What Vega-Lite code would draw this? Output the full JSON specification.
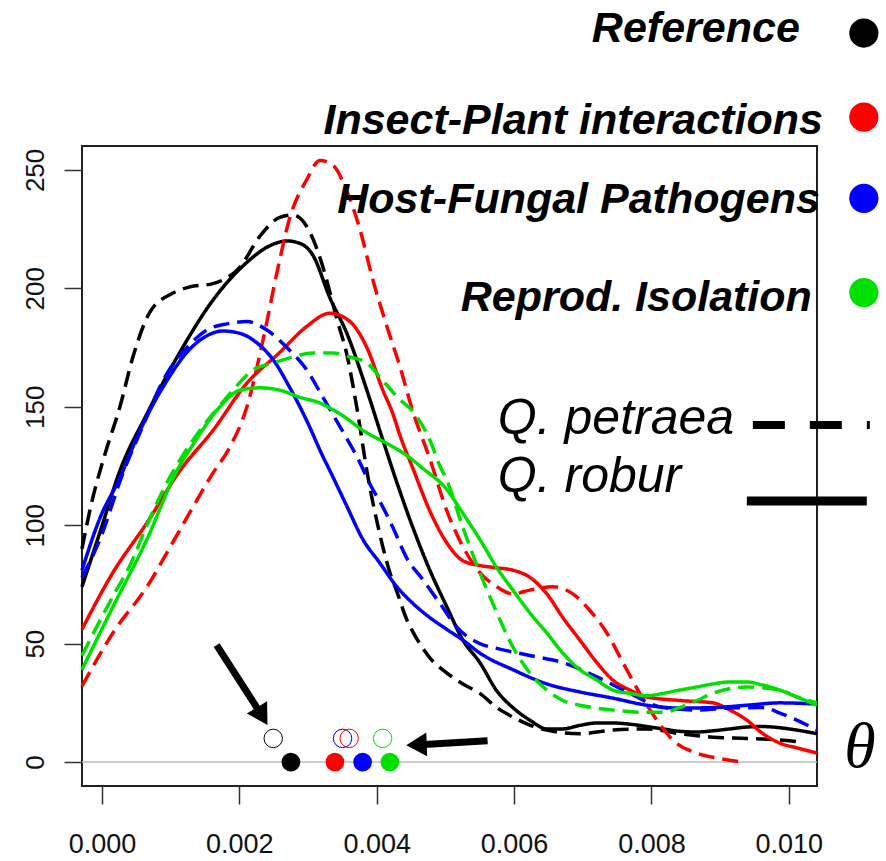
{
"$schema": "https://vega.github.io/schema/vega-lite/v6.json",
"width": 735, "height": 640,
"autosize": {"type": "none"},
"padding": {"left": 82, "top": 146, "right": 69, "bottom": 75},
"background": "white",
"config": {"view": {"stroke": "#222", "strokeWidth": 2}, "font": "Liberation Sans"},
"datasets": {
"curves": [
{"group":"Reference","species":"Q. robur","theta":-0.000291,"density":74},
{"group":"Reference","species":"Q. robur","theta":-0.000029,"density":97},
{"group":"Reference","species":"Q. robur","theta":0.000262,"density":123},
{"group":"Reference","species":"Q. robur","theta":0.000655,"density":147},
{"group":"Reference","species":"Q. robur","theta":0.001135,"density":173},
{"group":"Reference","species":"Q. robur","theta":0.001616,"density":195},
{"group":"Reference","species":"Q. robur","theta":0.002111,"density":211},
{"group":"Reference","species":"Q. robur","theta":0.002445,"density":218},
{"group":"Reference","species":"Q. robur","theta":0.002693,"density":220},
{"group":"Reference","species":"Q. robur","theta":0.002882,"density":219},
{"group":"Reference","species":"Q. robur","theta":0.003071,"density":214},
{"group":"Reference","species":"Q. robur","theta":0.003319,"density":196},
{"group":"Reference","species":"Q. robur","theta":0.003566,"density":181},
{"group":"Reference","species":"Q. robur","theta":0.003857,"density":157},
{"group":"Reference","species":"Q. robur","theta":0.004090,"density":136},
{"group":"Reference","species":"Q. robur","theta":0.004294,"density":118},
{"group":"Reference","species":"Q. robur","theta":0.004527,"density":99},
{"group":"Reference","species":"Q. robur","theta":0.004774,"density":81},
{"group":"Reference","species":"Q. robur","theta":0.005022,"density":65.5},
{"group":"Reference","species":"Q. robur","theta":0.005255,"density":51.5},
{"group":"Reference","species":"Q. robur","theta":0.005502,"density":42},
{"group":"Reference","species":"Q. robur","theta":0.005750,"density":30},
{"group":"Reference","species":"Q. robur","theta":0.005983,"density":23},
{"group":"Reference","species":"Q. robur","theta":0.006230,"density":17.7},
{"group":"Reference","species":"Q. robur","theta":0.006477,"density":14},
{"group":"Reference","species":"Q. robur","theta":0.006710,"density":14},
{"group":"Reference","species":"Q. robur","theta":0.006958,"density":15.5},
{"group":"Reference","species":"Q. robur","theta":0.007205,"density":16.5},
{"group":"Reference","species":"Q. robur","theta":0.007438,"density":16.5},
{"group":"Reference","species":"Q. robur","theta":0.007686,"density":16},
{"group":"Reference","species":"Q. robur","theta":0.007933,"density":15},
{"group":"Reference","species":"Q. robur","theta":0.008166,"density":14},
{"group":"Reference","species":"Q. robur","theta":0.008413,"density":13},
{"group":"Reference","species":"Q. robur","theta":0.008661,"density":12.7},
{"group":"Reference","species":"Q. robur","theta":0.008894,"density":13.2},
{"group":"Reference","species":"Q. robur","theta":0.009141,"density":14},
{"group":"Reference","species":"Q. robur","theta":0.009389,"density":14.8},
{"group":"Reference","species":"Q. robur","theta":0.009622,"density":15},
{"group":"Reference","species":"Q. robur","theta":0.009869,"density":14.5},
{"group":"Reference","species":"Q. robur","theta":0.010116,"density":13.5},
{"group":"Reference","species":"Q. robur","theta":0.010408,"density":12},
{"group":"Reference","species":"Q. petraea","theta":-0.000291,"density":90},
{"group":"Reference","species":"Q. petraea","theta":-0.000146,"density":110},
{"group":"Reference","species":"Q. petraea","theta":0.000044,"density":130},
{"group":"Reference","species":"Q. petraea","theta":0.000262,"density":150},
{"group":"Reference","species":"Q. petraea","theta":0.000451,"density":171},
{"group":"Reference","species":"Q. petraea","theta":0.000699,"density":190},
{"group":"Reference","species":"Q. petraea","theta":0.001033,"density":198},
{"group":"Reference","species":"Q. petraea","theta":0.001281,"density":200.6},
{"group":"Reference","species":"Q. petraea","theta":0.001616,"density":202},
{"group":"Reference","species":"Q. petraea","theta":0.002009,"density":209},
{"group":"Reference","species":"Q. petraea","theta":0.002300,"density":222},
{"group":"Reference","species":"Q. petraea","theta":0.002591,"density":230},
{"group":"Reference","species":"Q. petraea","theta":0.002780,"density":231},
{"group":"Reference","species":"Q. petraea","theta":0.002984,"density":226},
{"group":"Reference","species":"Q. petraea","theta":0.003071,"density":221},
{"group":"Reference","species":"Q. petraea","theta":0.003217,"density":209},
{"group":"Reference","species":"Q. petraea","theta":0.003421,"density":187},
{"group":"Reference","species":"Q. petraea","theta":0.003566,"density":172},
{"group":"Reference","species":"Q. petraea","theta":0.003726,"density":147},
{"group":"Reference","species":"Q. petraea","theta":0.003857,"density":123},
{"group":"Reference","species":"Q. petraea","theta":0.004047,"density":96},
{"group":"Reference","species":"Q. petraea","theta":0.004192,"density":80},
{"group":"Reference","species":"Q. petraea","theta":0.004294,"density":72},
{"group":"Reference","species":"Q. petraea","theta":0.004440,"density":60},
{"group":"Reference","species":"Q. petraea","theta":0.004527,"density":55},
{"group":"Reference","species":"Q. petraea","theta":0.004774,"density":44},
{"group":"Reference","species":"Q. petraea","theta":0.005022,"density":37.6},
{"group":"Reference","species":"Q. petraea","theta":0.005255,"density":33},
{"group":"Reference","species":"Q. petraea","theta":0.005502,"density":29},
{"group":"Reference","species":"Q. petraea","theta":0.005750,"density":23},
{"group":"Reference","species":"Q. petraea","theta":0.005983,"density":19},
{"group":"Reference","species":"Q. petraea","theta":0.006230,"density":15.6},
{"group":"Reference","species":"Q. petraea","theta":0.006477,"density":13.5},
{"group":"Reference","species":"Q. petraea","theta":0.006958,"density":12},
{"group":"Reference","species":"Q. petraea","theta":0.007438,"density":13.5},
{"group":"Reference","species":"Q. petraea","theta":0.007933,"density":14},
{"group":"Reference","species":"Q. petraea","theta":0.008413,"density":12},
{"group":"Reference","species":"Q. petraea","theta":0.008894,"density":10.5},
{"group":"Reference","species":"Q. petraea","theta":0.009389,"density":10},
{"group":"Reference","species":"Q. petraea","theta":0.009869,"density":9.3},
{"group":"Reference","species":"Q. petraea","theta":0.010160,"density":8.5},
{"group":"Insect-Plant interactions","species":"Q. robur","theta":-0.000291,"density":56},
{"group":"Insect-Plant interactions","species":"Q. robur","theta":0.000160,"density":80},
{"group":"Insect-Plant interactions","species":"Q. robur","theta":0.000655,"density":101},
{"group":"Insect-Plant interactions","species":"Q. robur","theta":0.001135,"density":123},
{"group":"Insect-Plant interactions","species":"Q. robur","theta":0.001616,"density":140},
{"group":"Insect-Plant interactions","species":"Q. robur","theta":0.002111,"density":160},
{"group":"Insect-Plant interactions","species":"Q. robur","theta":0.002591,"density":173},
{"group":"Insect-Plant interactions","species":"Q. robur","theta":0.002984,"density":184},
{"group":"Insect-Plant interactions","species":"Q. robur","theta":0.003319,"density":189.5},
{"group":"Insect-Plant interactions","species":"Q. robur","theta":0.003610,"density":186},
{"group":"Insect-Plant interactions","species":"Q. robur","theta":0.003857,"density":175},
{"group":"Insect-Plant interactions","species":"Q. robur","theta":0.004090,"density":157},
{"group":"Insect-Plant interactions","species":"Q. robur","theta":0.004236,"density":147},
{"group":"Insect-Plant interactions","species":"Q. robur","theta":0.004338,"density":138},
{"group":"Insect-Plant interactions","species":"Q. robur","theta":0.004527,"density":124},
{"group":"Insect-Plant interactions","species":"Q. robur","theta":0.004774,"density":106},
{"group":"Insect-Plant interactions","species":"Q. robur","theta":0.005022,"density":92.5},
{"group":"Insect-Plant interactions","species":"Q. robur","theta":0.005255,"density":85},
{"group":"Insect-Plant interactions","species":"Q. robur","theta":0.005502,"density":83},
{"group":"Insect-Plant interactions","species":"Q. robur","theta":0.005750,"density":82},
{"group":"Insect-Plant interactions","species":"Q. robur","theta":0.005983,"density":81},
{"group":"Insect-Plant interactions","species":"Q. robur","theta":0.006230,"density":78},
{"group":"Insect-Plant interactions","species":"Q. robur","theta":0.006477,"density":71},
{"group":"Insect-Plant interactions","species":"Q. robur","theta":0.006710,"density":61},
{"group":"Insect-Plant interactions","species":"Q. robur","theta":0.006958,"density":51.5},
{"group":"Insect-Plant interactions","species":"Q. robur","theta":0.007205,"density":42},
{"group":"Insect-Plant interactions","species":"Q. robur","theta":0.007438,"density":34.6},
{"group":"Insect-Plant interactions","species":"Q. robur","theta":0.007686,"density":30.4},
{"group":"Insect-Plant interactions","species":"Q. robur","theta":0.007933,"density":27.5},
{"group":"Insect-Plant interactions","species":"Q. robur","theta":0.008413,"density":26},
{"group":"Insect-Plant interactions","species":"Q. robur","theta":0.008894,"density":25},
{"group":"Insect-Plant interactions","species":"Q. robur","theta":0.009141,"density":22},
{"group":"Insect-Plant interactions","species":"Q. robur","theta":0.009389,"density":17.7},
{"group":"Insect-Plant interactions","species":"Q. robur","theta":0.009622,"density":12},
{"group":"Insect-Plant interactions","species":"Q. robur","theta":0.009869,"density":8},
{"group":"Insect-Plant interactions","species":"Q. robur","theta":0.010116,"density":6},
{"group":"Insect-Plant interactions","species":"Q. robur","theta":0.010408,"density":3.8},
{"group":"Insect-Plant interactions","species":"Q. petraea","theta":-0.000291,"density":32},
{"group":"Insect-Plant interactions","species":"Q. petraea","theta":0.000160,"density":54.5},
{"group":"Insect-Plant interactions","species":"Q. petraea","theta":0.000655,"density":74},
{"group":"Insect-Plant interactions","species":"Q. petraea","theta":0.001135,"density":98},
{"group":"Insect-Plant interactions","species":"Q. petraea","theta":0.001616,"density":122},
{"group":"Insect-Plant interactions","species":"Q. petraea","theta":0.001863,"density":133},
{"group":"Insect-Plant interactions","species":"Q. petraea","theta":0.002111,"density":150},
{"group":"Insect-Plant interactions","species":"Q. petraea","theta":0.002344,"density":178},
{"group":"Insect-Plant interactions","species":"Q. petraea","theta":0.002547,"density":206.5},
{"group":"Insect-Plant interactions","species":"Q. petraea","theta":0.002737,"density":230},
{"group":"Insect-Plant interactions","species":"Q. petraea","theta":0.002984,"density":246},
{"group":"Insect-Plant interactions","species":"Q. petraea","theta":0.003173,"density":254},
{"group":"Insect-Plant interactions","species":"Q. petraea","theta":0.003362,"density":252},
{"group":"Insect-Plant interactions","species":"Q. petraea","theta":0.003566,"density":241},
{"group":"Insect-Plant interactions","species":"Q. petraea","theta":0.003755,"density":225},
{"group":"Insect-Plant interactions","species":"Q. petraea","theta":0.003945,"density":203.5},
{"group":"Insect-Plant interactions","species":"Q. petraea","theta":0.004148,"density":184},
{"group":"Insect-Plant interactions","species":"Q. petraea","theta":0.004338,"density":167},
{"group":"Insect-Plant interactions","species":"Q. petraea","theta":0.004527,"density":148},
{"group":"Insect-Plant interactions","species":"Q. petraea","theta":0.004774,"density":128},
{"group":"Insect-Plant interactions","species":"Q. petraea","theta":0.005022,"density":106},
{"group":"Insect-Plant interactions","species":"Q. petraea","theta":0.005255,"density":91},
{"group":"Insect-Plant interactions","species":"Q. petraea","theta":0.005502,"density":80},
{"group":"Insect-Plant interactions","species":"Q. petraea","theta":0.005750,"density":74},
{"group":"Insect-Plant interactions","species":"Q. petraea","theta":0.005983,"density":71},
{"group":"Insect-Plant interactions","species":"Q. petraea","theta":0.006230,"density":72.6},
{"group":"Insect-Plant interactions","species":"Q. petraea","theta":0.006565,"density":74},
{"group":"Insect-Plant interactions","species":"Q. petraea","theta":0.006856,"density":71},
{"group":"Insect-Plant interactions","species":"Q. petraea","theta":0.007103,"density":64},
{"group":"Insect-Plant interactions","species":"Q. petraea","theta":0.007351,"density":54.5},
{"group":"Insect-Plant interactions","species":"Q. petraea","theta":0.007584,"density":42},
{"group":"Insect-Plant interactions","species":"Q. petraea","theta":0.007831,"density":29},
{"group":"Insect-Plant interactions","species":"Q. petraea","theta":0.008079,"density":17.7},
{"group":"Insect-Plant interactions","species":"Q. petraea","theta":0.008311,"density":9.3},
{"group":"Insect-Plant interactions","species":"Q. petraea","theta":0.008661,"density":3.8},
{"group":"Insect-Plant interactions","species":"Q. petraea","theta":0.008996,"density":1.5},
{"group":"Insect-Plant interactions","species":"Q. petraea","theta":0.009330,"density":0},
{"group":"Host-Fungal Pathogens","species":"Q. robur","theta":-0.000291,"density":81},
{"group":"Host-Fungal Pathogens","species":"Q. robur","theta":-0.000029,"density":103},
{"group":"Host-Fungal Pathogens","species":"Q. robur","theta":0.000262,"density":120},
{"group":"Host-Fungal Pathogens","species":"Q. robur","theta":0.000509,"density":137},
{"group":"Host-Fungal Pathogens","species":"Q. robur","theta":0.000655,"density":146},
{"group":"Host-Fungal Pathogens","species":"Q. robur","theta":0.000946,"density":161},
{"group":"Host-Fungal Pathogens","species":"Q. robur","theta":0.001237,"density":173},
{"group":"Host-Fungal Pathogens","species":"Q. robur","theta":0.001528,"density":180},
{"group":"Host-Fungal Pathogens","species":"Q. robur","theta":0.001761,"density":182},
{"group":"Host-Fungal Pathogens","species":"Q. robur","theta":0.002009,"density":181},
{"group":"Host-Fungal Pathogens","species":"Q. robur","theta":0.002256,"density":177},
{"group":"Host-Fungal Pathogens","species":"Q. robur","theta":0.002489,"density":170},
{"group":"Host-Fungal Pathogens","species":"Q. robur","theta":0.002737,"density":158},
{"group":"Host-Fungal Pathogens","species":"Q. robur","theta":0.002984,"density":144},
{"group":"Host-Fungal Pathogens","species":"Q. robur","theta":0.003217,"density":129},
{"group":"Host-Fungal Pathogens","species":"Q. robur","theta":0.003319,"density":123},
{"group":"Host-Fungal Pathogens","species":"Q. robur","theta":0.003566,"density":108},
{"group":"Host-Fungal Pathogens","species":"Q. robur","theta":0.003799,"density":94},
{"group":"Host-Fungal Pathogens","species":"Q. robur","theta":0.004047,"density":84},
{"group":"Host-Fungal Pathogens","species":"Q. robur","theta":0.004294,"density":74},
{"group":"Host-Fungal Pathogens","species":"Q. robur","theta":0.004527,"density":67},
{"group":"Host-Fungal Pathogens","species":"Q. robur","theta":0.004774,"density":61},
{"group":"Host-Fungal Pathogens","species":"Q. robur","theta":0.005022,"density":56},
{"group":"Host-Fungal Pathogens","species":"Q. robur","theta":0.005255,"density":51.5},
{"group":"Host-Fungal Pathogens","species":"Q. robur","theta":0.005502,"density":46},
{"group":"Host-Fungal Pathogens","species":"Q. robur","theta":0.005983,"density":39},
{"group":"Host-Fungal Pathogens","species":"Q. robur","theta":0.006477,"density":33},
{"group":"Host-Fungal Pathogens","species":"Q. robur","theta":0.006958,"density":29.6},
{"group":"Host-Fungal Pathogens","species":"Q. robur","theta":0.007438,"density":27},
{"group":"Host-Fungal Pathogens","species":"Q. robur","theta":0.007933,"density":24},
{"group":"Host-Fungal Pathogens","species":"Q. robur","theta":0.008413,"density":22.8},
{"group":"Host-Fungal Pathogens","species":"Q. robur","theta":0.008894,"density":23},
{"group":"Host-Fungal Pathogens","species":"Q. robur","theta":0.009389,"density":24},
{"group":"Host-Fungal Pathogens","species":"Q. robur","theta":0.009869,"density":25},
{"group":"Host-Fungal Pathogens","species":"Q. robur","theta":0.010408,"density":24.5},
{"group":"Host-Fungal Pathogens","species":"Q. petraea","theta":-0.000291,"density":78},
{"group":"Host-Fungal Pathogens","species":"Q. petraea","theta":-0.000029,"density":94},
{"group":"Host-Fungal Pathogens","species":"Q. petraea","theta":0.000306,"density":122},
{"group":"Host-Fungal Pathogens","species":"Q. petraea","theta":0.000553,"density":139},
{"group":"Host-Fungal Pathogens","species":"Q. petraea","theta":0.000946,"density":164},
{"group":"Host-Fungal Pathogens","species":"Q. petraea","theta":0.001237,"density":175},
{"group":"Host-Fungal Pathogens","species":"Q. petraea","theta":0.001528,"density":182.4},
{"group":"Host-Fungal Pathogens","species":"Q. petraea","theta":0.001820,"density":185},
{"group":"Host-Fungal Pathogens","species":"Q. petraea","theta":0.002111,"density":186},
{"group":"Host-Fungal Pathogens","species":"Q. petraea","theta":0.002402,"density":182.4},
{"group":"Host-Fungal Pathogens","species":"Q. petraea","theta":0.002693,"density":175},
{"group":"Host-Fungal Pathogens","species":"Q. petraea","theta":0.002984,"density":165.5},
{"group":"Host-Fungal Pathogens","species":"Q. petraea","theta":0.003217,"density":154},
{"group":"Host-Fungal Pathogens","species":"Q. petraea","theta":0.003537,"density":138},
{"group":"Host-Fungal Pathogens","species":"Q. petraea","theta":0.003712,"density":129},
{"group":"Host-Fungal Pathogens","species":"Q. petraea","theta":0.003945,"density":115},
{"group":"Host-Fungal Pathogens","species":"Q. petraea","theta":0.004047,"density":110},
{"group":"Host-Fungal Pathogens","species":"Q. petraea","theta":0.004236,"density":99},
{"group":"Host-Fungal Pathogens","species":"Q. petraea","theta":0.004440,"density":86},
{"group":"Host-Fungal Pathogens","species":"Q. petraea","theta":0.004672,"density":77},
{"group":"Host-Fungal Pathogens","species":"Q. petraea","theta":0.004920,"density":67},
{"group":"Host-Fungal Pathogens","species":"Q. petraea","theta":0.005167,"density":57},
{"group":"Host-Fungal Pathogens","species":"Q. petraea","theta":0.005502,"density":50},
{"group":"Host-Fungal Pathogens","species":"Q. petraea","theta":0.005750,"density":48},
{"group":"Host-Fungal Pathogens","species":"Q. petraea","theta":0.006230,"density":45},
{"group":"Host-Fungal Pathogens","species":"Q. petraea","theta":0.006710,"density":42},
{"group":"Host-Fungal Pathogens","species":"Q. petraea","theta":0.007205,"density":36},
{"group":"Host-Fungal Pathogens","species":"Q. petraea","theta":0.007686,"density":29},
{"group":"Host-Fungal Pathogens","species":"Q. petraea","theta":0.008166,"density":23},
{"group":"Host-Fungal Pathogens","species":"Q. petraea","theta":0.008661,"density":22},
{"group":"Host-Fungal Pathogens","species":"Q. petraea","theta":0.009141,"density":22.8},
{"group":"Host-Fungal Pathogens","species":"Q. petraea","theta":0.009622,"density":23},
{"group":"Host-Fungal Pathogens","species":"Q. petraea","theta":0.009869,"density":20.7},
{"group":"Host-Fungal Pathogens","species":"Q. petraea","theta":0.010116,"density":17.7},
{"group":"Host-Fungal Pathogens","species":"Q. petraea","theta":0.010408,"density":13.5},
{"group":"Reprod. Isolation","species":"Q. robur","theta":-0.000291,"density":39},
{"group":"Reprod. Isolation","species":"Q. robur","theta":0.000160,"density":65.5},
{"group":"Reprod. Isolation","species":"Q. robur","theta":0.000655,"density":94},
{"group":"Reprod. Isolation","species":"Q. robur","theta":0.001092,"density":123},
{"group":"Reprod. Isolation","species":"Q. robur","theta":0.001325,"density":134},
{"group":"Reprod. Isolation","species":"Q. robur","theta":0.001718,"density":150},
{"group":"Reprod. Isolation","species":"Q. robur","theta":0.002009,"density":157},
{"group":"Reprod. Isolation","species":"Q. robur","theta":0.002300,"density":158},
{"group":"Reprod. Isolation","species":"Q. robur","theta":0.002591,"density":157},
{"group":"Reprod. Isolation","species":"Q. robur","theta":0.002882,"density":154},
{"group":"Reprod. Isolation","species":"Q. robur","theta":0.003173,"density":151.6},
{"group":"Reprod. Isolation","species":"Q. robur","theta":0.003464,"density":147},
{"group":"Reprod. Isolation","species":"Q. robur","theta":0.003857,"density":139},
{"group":"Reprod. Isolation","species":"Q. robur","theta":0.004119,"density":135},
{"group":"Reprod. Isolation","species":"Q. robur","theta":0.004410,"density":130},
{"group":"Reprod. Isolation","species":"Q. robur","theta":0.004672,"density":124},
{"group":"Reprod. Isolation","species":"Q. robur","theta":0.005022,"density":115},
{"group":"Reprod. Isolation","species":"Q. robur","theta":0.005255,"density":105},
{"group":"Reprod. Isolation","species":"Q. robur","theta":0.005502,"density":94},
{"group":"Reprod. Isolation","species":"Q. robur","theta":0.005750,"density":82},
{"group":"Reprod. Isolation","species":"Q. robur","theta":0.005983,"density":72.6},
{"group":"Reprod. Isolation","species":"Q. robur","theta":0.006230,"density":63},
{"group":"Reprod. Isolation","species":"Q. robur","theta":0.006477,"density":54.5},
{"group":"Reprod. Isolation","species":"Q. robur","theta":0.006710,"density":46},
{"group":"Reprod. Isolation","species":"Q. robur","theta":0.006958,"density":39},
{"group":"Reprod. Isolation","species":"Q. robur","theta":0.007205,"density":34.6},
{"group":"Reprod. Isolation","species":"Q. robur","theta":0.007438,"density":30.4},
{"group":"Reprod. Isolation","species":"Q. robur","theta":0.007686,"density":29},
{"group":"Reprod. Isolation","species":"Q. robur","theta":0.007933,"density":28},
{"group":"Reprod. Isolation","species":"Q. robur","theta":0.008166,"density":29},
{"group":"Reprod. Isolation","species":"Q. robur","theta":0.008413,"density":30.4},
{"group":"Reprod. Isolation","species":"Q. robur","theta":0.008661,"density":31.7},
{"group":"Reprod. Isolation","species":"Q. robur","theta":0.008894,"density":33},
{"group":"Reprod. Isolation","species":"Q. robur","theta":0.009141,"density":33.8},
{"group":"Reprod. Isolation","species":"Q. robur","theta":0.009389,"density":33.8},
{"group":"Reprod. Isolation","species":"Q. robur","theta":0.009622,"density":32.5},
{"group":"Reprod. Isolation","species":"Q. robur","theta":0.009869,"density":30.4},
{"group":"Reprod. Isolation","species":"Q. robur","theta":0.010116,"density":27.5},
{"group":"Reprod. Isolation","species":"Q. robur","theta":0.010408,"density":24},
{"group":"Reprod. Isolation","species":"Q. petraea","theta":-0.000291,"density":45},
{"group":"Reprod. Isolation","species":"Q. petraea","theta":0.000160,"density":70},
{"group":"Reprod. Isolation","species":"Q. petraea","theta":0.000408,"density":83},
{"group":"Reprod. Isolation","species":"Q. petraea","theta":0.000655,"density":100},
{"group":"Reprod. Isolation","species":"Q. petraea","theta":0.000946,"density":118},
{"group":"Reprod. Isolation","species":"Q. petraea","theta":0.001135,"density":127.5},
{"group":"Reprod. Isolation","species":"Q. petraea","theta":0.001426,"density":140},
{"group":"Reprod. Isolation","species":"Q. petraea","theta":0.001674,"density":149},
{"group":"Reprod. Isolation","species":"Q. petraea","theta":0.001907,"density":157},
{"group":"Reprod. Isolation","species":"Q. petraea","theta":0.002198,"density":165.5},
{"group":"Reprod. Isolation","species":"Q. petraea","theta":0.002489,"density":168.5},
{"group":"Reprod. Isolation","species":"Q. petraea","theta":0.002780,"density":171},
{"group":"Reprod. Isolation","species":"Q. petraea","theta":0.003071,"density":172.7},
{"group":"Reprod. Isolation","species":"Q. petraea","theta":0.003362,"density":172.7},
{"group":"Reprod. Isolation","species":"Q. petraea","theta":0.003610,"density":171},
{"group":"Reprod. Isolation","species":"Q. petraea","theta":0.003857,"density":168.5},
{"group":"Reprod. Isolation","species":"Q. petraea","theta":0.004090,"density":161},
{"group":"Reprod. Isolation","species":"Q. petraea","theta":0.004338,"density":153},
{"group":"Reprod. Isolation","species":"Q. petraea","theta":0.004527,"density":148},
{"group":"Reprod. Isolation","species":"Q. petraea","theta":0.004774,"density":136},
{"group":"Reprod. Isolation","species":"Q. petraea","theta":0.004920,"density":125},
{"group":"Reprod. Isolation","species":"Q. petraea","theta":0.005022,"density":119},
{"group":"Reprod. Isolation","species":"Q. petraea","theta":0.005255,"density":99},
{"group":"Reprod. Isolation","species":"Q. petraea","theta":0.005502,"density":80},
{"group":"Reprod. Isolation","species":"Q. petraea","theta":0.005750,"density":63},
{"group":"Reprod. Isolation","species":"Q. petraea","theta":0.005983,"density":48.6},
{"group":"Reprod. Isolation","species":"Q. petraea","theta":0.006230,"density":37.6},
{"group":"Reprod. Isolation","species":"Q. petraea","theta":0.006477,"density":30.4},
{"group":"Reprod. Isolation","species":"Q. petraea","theta":0.006710,"density":26},
{"group":"Reprod. Isolation","species":"Q. petraea","theta":0.006958,"density":24},
{"group":"Reprod. Isolation","species":"Q. petraea","theta":0.007438,"density":22},
{"group":"Reprod. Isolation","species":"Q. petraea","theta":0.007933,"density":21},
{"group":"Reprod. Isolation","species":"Q. petraea","theta":0.008166,"density":21},
{"group":"Reprod. Isolation","species":"Q. petraea","theta":0.008413,"density":23},
{"group":"Reprod. Isolation","species":"Q. petraea","theta":0.008661,"density":26},
{"group":"Reprod. Isolation","species":"Q. petraea","theta":0.008894,"density":29},
{"group":"Reprod. Isolation","species":"Q. petraea","theta":0.009389,"density":31.7},
{"group":"Reprod. Isolation","species":"Q. petraea","theta":0.009869,"density":30.4},
{"group":"Reprod. Isolation","species":"Q. petraea","theta":0.010116,"density":27.5},
{"group":"Reprod. Isolation","species":"Q. petraea","theta":0.010408,"density":25}
],
"filled_means": [
{"group":"Reference","theta":0.002751},
{"group":"Insect-Plant interactions","theta":0.003392},
{"group":"Host-Fungal Pathogens","theta":0.003795},
{"group":"Reprod. Isolation","theta":0.004192}
],
"open_means": [
{"group":"Reference","theta":0.002494},
{"group":"Host-Fungal Pathogens","theta":0.003503},
{"group":"Insect-Plant interactions","theta":0.003600},
{"group":"Reprod. Isolation","theta":0.004086}
]
},
"layer": [
{"data": {"values": [{}]},
 "mark": {"type": "rule", "color": "#bdbdbd", "strokeWidth": 1.5},
 "encoding": {"y": {"datum": 0, "type": "quantitative"}}},
{"data": {"name": "curves"},
 "mark": {"type": "line", "strokeWidth": 3.5, "interpolate": "monotone"},
 "encoding": {
  "x": {"field": "theta", "type": "quantitative",
        "scale": {"domain": [-0.00029, 0.01041], "nice": false, "zero": false},
        "axis": {"title": null, "values": [0, 0.002, 0.004, 0.006, 0.008, 0.01], "format": ".3f",
                 "grid": false, "domain": false, "tickSize": 18, "tickWidth": 1.5, "tickColor": "#333",
                 "labelFont": "Liberation Sans", "labelFontSize": 27, "labelColor": "#111",
                 "labelPadding": 27, "labelFlush": false, "labelOverlap": false}},
  "y": {"field": "density", "type": "quantitative",
        "scale": {"domain": [-10.1, 260.1], "nice": false, "zero": false},
        "axis": {"title": null, "values": [0, 50, 100, 150, 200, 250],
                 "grid": false, "domain": false, "tickSize": 18, "tickWidth": 1.5, "tickColor": "#333",
                 "labelFont": "Liberation Sans", "labelFontSize": 26, "labelColor": "#111",
                 "labelAngle": 270, "labelAlign": "center", "labelBaseline": "bottom",
                 "labelPadding": 16, "labelFlush": false, "labelOverlap": false}},
  "color": {"field": "group", "type": "nominal", "legend": null,
            "scale": {"domain": ["Reference", "Insect-Plant interactions", "Host-Fungal Pathogens", "Reprod. Isolation"],
                      "range": ["#000000", "#ff0000", "#0000ff", "#00e000"]}},
  "strokeDash": {"field": "species", "type": "nominal", "legend": null,
                 "scale": {"domain": ["Q. petraea", "Q. robur"], "range": [[16, 8], [1, 0]]}}
 }},
{"data": {"name": "filled_means"},
 "mark": {"type": "point", "shape": "circle", "filled": true, "size": 350, "opacity": 1},
 "encoding": {"x": {"field": "theta", "type": "quantitative"}, "y": {"datum": 0},
              "color": {"field": "group", "type": "nominal", "legend": null}}},
{"data": {"name": "open_means"},
 "mark": {"type": "point", "shape": "circle", "filled": false, "size": 340, "strokeWidth": 1, "opacity": 1},
 "encoding": {"x": {"field": "theta", "type": "quantitative"}, "y": {"datum": 10},
              "color": {"field": "group", "type": "nominal", "legend": null}}},
{"data": {"values": [{}]},
 "mark": {"type": "rule", "color": "black", "strokeWidth": 7},
 "encoding": {"x": {"datum": 0.001670}, "y": {"datum": 49.4}, "x2": {"datum": 0.002308}, "y2": {"datum": 20.6}}},
{"data": {"values": [{}]},
 "mark": {"type": "point", "shape": "triangle", "filled": true, "size": 560, "angle": 149, "color": "black", "opacity": 1},
 "encoding": {"x": {"datum": 0.002308}, "y": {"datum": 20.6}}},
{"data": {"values": [{}]},
 "mark": {"type": "rule", "color": "black", "strokeWidth": 7},
 "encoding": {"x": {"datum": 0.005614}, "y": {"datum": 9.0}, "x2": {"datum": 0.004629}, "y2": {"datum": 7.35}}},
{"data": {"values": [{}]},
 "mark": {"type": "point", "shape": "triangle", "filled": true, "size": 560, "angle": 268, "color": "black", "opacity": 1},
 "encoding": {"x": {"datum": 0.004629}, "y": {"datum": 7.35}}},
{"data": {"values": [{}]},
 "mark": {"type": "text", "text": "Reference", "font": "Liberation Sans", "fontWeight": "bold", "fontStyle": "italic", "fontSize": 43, "align": "right", "baseline": "alphabetic", "color": "black"},
 "encoding": {"x": {"datum": 0.010160}, "y": {"datum": 304.1}}},
{"data": {"values": [{}]},
 "mark": {"type": "text", "text": "Insect-Plant interactions", "font": "Liberation Sans", "fontWeight": "bold", "fontStyle": "italic", "fontSize": 43, "align": "right", "baseline": "alphabetic", "color": "black"},
 "encoding": {"x": {"datum": 0.010495}, "y": {"datum": 265.2}}},
{"data": {"values": [{}]},
 "mark": {"type": "text", "text": "Host-Fungal Pathogens", "font": "Liberation Sans", "fontWeight": "bold", "fontStyle": "italic", "fontSize": 43, "align": "right", "baseline": "alphabetic", "color": "black"},
 "encoding": {"x": {"datum": 0.010451}, "y": {"datum": 231.8}}},
{"data": {"values": [{}]},
 "mark": {"type": "text", "text": "Reprod. Isolation", "font": "Liberation Sans", "fontWeight": "bold", "fontStyle": "italic", "fontSize": 43, "align": "right", "baseline": "alphabetic", "color": "black"},
 "encoding": {"x": {"datum": 0.010335}, "y": {"datum": 190.5}}},
{"data": {"values": [{}]},
 "mark": {"type": "point", "shape": "circle", "filled": true, "size": 855, "opacity": 1, "color": "#000000"},
 "encoding": {"x": {"datum": 0.011092}, "y": {"datum": 307.8}}},
{"data": {"values": [{}]},
 "mark": {"type": "point", "shape": "circle", "filled": true, "size": 855, "opacity": 1, "color": "#ff0000"},
 "encoding": {"x": {"datum": 0.011092}, "y": {"datum": 272.3}}},
{"data": {"values": [{}]},
 "mark": {"type": "point", "shape": "circle", "filled": true, "size": 855, "opacity": 1, "color": "#0000ff"},
 "encoding": {"x": {"datum": 0.011092}, "y": {"datum": 238.0}}},
{"data": {"values": [{}]},
 "mark": {"type": "point", "shape": "circle", "filled": true, "size": 855, "opacity": 1, "color": "#00e000"},
 "encoding": {"x": {"datum": 0.011092}, "y": {"datum": 198.2}}},
{"data": {"values": [{}]},
 "mark": {"type": "text", "text": "Q. petraea", "font": "Liberation Sans", "fontStyle": "italic", "fontSize": 50, "align": "left", "baseline": "alphabetic", "color": "black"},
 "encoding": {"x": {"datum": 0.005764}, "y": {"datum": 138.5}}},
{"data": {"values": [{}]},
 "mark": {"type": "text", "text": "Q. robur", "font": "Liberation Sans", "fontStyle": "italic", "fontSize": 50, "align": "left", "baseline": "alphabetic", "color": "black"},
 "encoding": {"x": {"datum": 0.005764}, "y": {"datum": 114.1}}},
{"data": {"values": [{}]},
 "mark": {"type": "rule", "color": "black", "strokeWidth": 8, "strokeDash": [32, 25]},
 "encoding": {"x": {"datum": 0.009476}, "x2": {"datum": 0.011179}, "y": {"datum": 142.3}}},
{"data": {"values": [{}]},
 "mark": {"type": "rule", "color": "black", "strokeWidth": 9},
 "encoding": {"x": {"datum": 0.009389}, "x2": {"datum": 0.011135}, "y": {"datum": 110.2}}},
{"data": {"values": [{}]},
 "mark": {"type": "text", "text": "θ", "font": "Liberation Serif", "fontStyle": "italic", "fontSize": 64, "align": "center", "baseline": "alphabetic", "color": "black"},
 "encoding": {"x": {"datum": 0.011034}, "y": {"datum": -2.1}}}
]
}
